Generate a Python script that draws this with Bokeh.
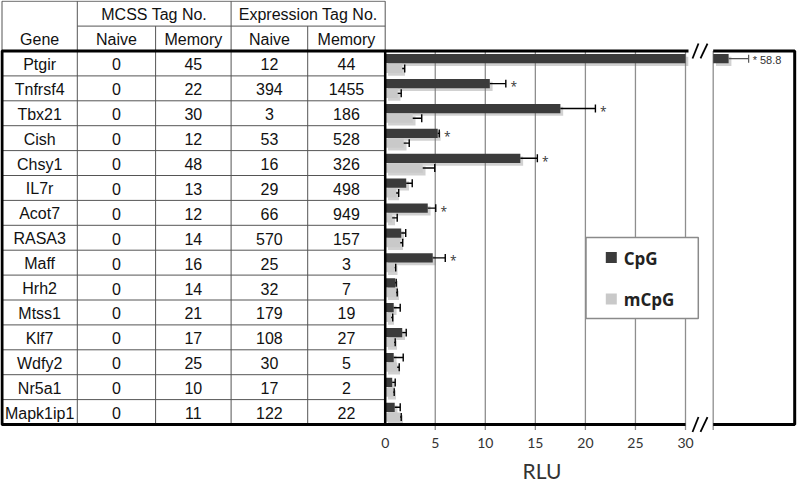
from bokeh.plotting import figure
from bokeh.models import Range1d, FixedTicker, Title, ColumnDataSource
from bokeh.core.properties import value
from bokeh.embed import file_html
from bokeh.resources import INLINE

# ---------------- data ----------------
genes = ["Ptgir", "Tnfrsf4", "Tbx21", "Cish", "Chsy1", "IL7r", "Acot7", "RASA3",
         "Maff", "Hrh2", "Mtss1", "Klf7", "Wdfy2", "Nr5a1", "Mapk1ip1"]
mcss_naive = [0, 0, 0, 0, 0, 0, 0, 0, 0, 0, 0, 0, 0, 0, 0]
mcss_memory = [45, 22, 30, 12, 48, 13, 12, 14, 16, 14, 21, 17, 25, 10, 11]
expr_naive = [12, 394, 3, 53, 16, 29, 66, 570, 25, 32, 179, 108, 30, 17, 122]
expr_memory = [44, 1455, 186, 528, 326, 498, 949, 157, 3, 7, 19, 27, 5, 2, 22]

cpg = [58.8, 10.45, 17.5, 5.25, 13.5, 2.1, 4.25, 1.6, 4.75, 1.0, 0.85, 1.7, 0.85, 0.7, 0.95]
cpg_err = [2.0, 1.6, 3.5, 0.15, 1.7, 0.6, 0.8, 0.45, 1.25, 0.1, 0.65, 0.4, 0.95, 0.3, 0.55]
mcpg = [1.7, 1.25, 2.75, 1.85, 3.75, 1.1, 0.7, 1.5, 0.95, 1.1, 0.6, 0.9, 1.2, 0.8, 1.5]
mcpg_err = [0.25, 0.35, 0.9, 0.55, 1.2, 0.25, 0.5, 0.25, 0.1, 0.1, 0.15, 0.1, 0.2, 0.1, 0.1]
significant = [True, True, True, True, True, False, True, False, True,
               False, False, False, False, False, False]

header_top = ["MCSS Tag No.", "Expression Tag No."]
header_sub = ["Gene", "Naive", "Memory", "Naive", "Memory"]
series_names = ["CpG", "mCpG"]
rlu_ticks = [0, 5, 10, 15, 20, 25, 30]
axis_title = "RLU"

# ---------------- layout constants ----------------
FIG_W = 797
FRAME_H = 435
ROW_H = 24.9
TOP_PX = 50.5          # px of the top of the first data row
PX = 10.01             # px per RLU unit
X0 = 384.7             # px of RLU 0
AX_MAX = 30
BRK_PX = 712.7         # px where right (broken) panel starts
BRK_START = 57.26      # RLU value at the start of the right panel
RIGHT_PX = 794.2
COL_EDGES = [1.5, 76.8, 155.1, 230.6, 307.2, 384.7]

DARK = "#3b3b3b"
LIGHT = "#c9c9c9"
TFONT = value("Liberation Sans")

n = len(genes)
rows = list(range(n))

p = figure(frame_width=FIG_W, frame_height=FRAME_H, output_backend="svg", toolbar_location=None,
           x_range=Range1d(-X0 / PX, (FIG_W - X0) / PX),
           y_range=Range1d((FRAME_H - TOP_PX) / ROW_H - 0.5, -TOP_PX / ROW_H - 0.5),
           y_axis_location=None, min_border_left=0, min_border_right=0,
           min_border_top=0, min_border_bottom=0, title=None)
p.extra_x_ranges = {
    "tbl": Range1d(0, FIG_W),
    "brk": Range1d(BRK_START - BRK_PX / PX, BRK_START + (FIG_W - BRK_PX) / PX),
}
p.outline_line_color = None
p.grid.visible = False
p.background_fill_color = "white"
p.border_fill_color = "white"

ax = p.xaxis[0]
ax.ticker = FixedTicker(ticks=rlu_ticks)
ax.axis_line_color = None
ax.major_tick_line_color = None
ax.minor_tick_line_color = None
ax.major_tick_out = 0
ax.major_tick_in = 0
ax.major_label_standoff = 2
ax.major_label_text_font = "Lato"
ax.major_label_text_font_size = "14px"
ax.major_label_text_color = "#333333"

# axis title placed under the broken-axis chart
p.add_layout(Title(text=axis_title, align="left", offset=522, text_font="Lato",
                   text_font_size="21px", text_font_style="normal", text_color="#333333",
                   standoff=10), "below")

# ---------------- grid lines ----------------
grid_x = [t for t in rlu_ticks if t > 0]
p.segment(x0=grid_x, x1=grid_x, y0=-0.5, y1=14.72, line_color="#8e8e8e", line_width=1.3)
p.segment(x0=[BRK_START], x1=[BRK_START], y0=-0.5, y1=14.72, line_color="#8e8e8e",
          line_width=1.3, x_range_name="brk")

# ---------------- bars ----------------
CP_OFF, MC_OFF, BAR_H = -0.19, 0.20, 0.37
SH_X, SH_Y = 0.28, 0.11
cpg_main = [min(v, AX_MAX) for v in cpg]
y_cp = [r + CP_OFF for r in rows]
y_mc = [r + MC_OFF for r in rows]

# shadows
p.hbar(y=[v + SH_Y for v in y_cp], left=SH_X, right=[v + SH_X for v in cpg_main], height=BAR_H,
       fill_color="#7a7a7a", fill_alpha=0.35, line_color=None)
p.hbar(y=[v + SH_Y for v in y_mc], left=SH_X, right=[v + SH_X for v in mcpg], height=BAR_H,
       fill_color="#7a7a7a", fill_alpha=0.35, line_color=None)

p.hbar(y=y_cp, left=0, right=cpg_main, height=BAR_H, fill_color=DARK, line_color=None)
p.hbar(y=y_mc, left=0, right=mcpg, height=BAR_H, fill_color=LIGHT, line_color=None)

# error bars (main panel)
main_idx = [i for i in rows if cpg[i] <= AX_MAX]
e_hi_cp = [cpg[i] + cpg_err[i] for i in main_idx]
p.segment(x0=[cpg[i] for i in main_idx], x1=e_hi_cp, y0=[y_cp[i] for i in main_idx],
          y1=[y_cp[i] for i in main_idx], line_color="black", line_width=1.4)
p.segment(x0=e_hi_cp, x1=e_hi_cp, y0=[y_cp[i] - 0.16 for i in main_idx],
          y1=[y_cp[i] + 0.16 for i in main_idx], line_color="black", line_width=1.4)
e_hi_mc = [mcpg[i] + mcpg_err[i] for i in rows]
p.segment(x0=mcpg, x1=e_hi_mc, y0=y_mc, y1=y_mc, line_color="black", line_width=1.4)
p.segment(x0=e_hi_mc, x1=e_hi_mc, y0=[v - 0.16 for v in y_mc], y1=[v + 0.16 for v in y_mc],
          line_color="black", line_width=1.4)

# significance stars (main panel)
sig_main = [i for i in main_idx if significant[i]]
p.text(x=[cpg[i] + cpg_err[i] for i in sig_main], y=[y_cp[i] for i in sig_main],
       text=["*"] * len(sig_main), x_offset=8, y_offset=3, text_align="center",
       text_baseline="middle", text_font=value("Open Sans"), text_font_size="12px",
       text_color="#333333")

# ---------------- broken (right) panel ----------------
big = [i for i in rows if cpg[i] > AX_MAX]
p.hbar(y=[y_cp[i] + SH_Y for i in big], left=BRK_START + SH_X, right=[cpg[i] + SH_X for i in big],
       height=BAR_H, fill_color="#7a7a7a", fill_alpha=0.35, line_color=None, x_range_name="brk")
p.hbar(y=[y_cp[i] for i in big], left=BRK_START, right=[cpg[i] for i in big], height=BAR_H,
       fill_color=DARK, line_color=None, x_range_name="brk")
b_hi = [cpg[i] + cpg_err[i] for i in big]
p.segment(x0=[cpg[i] for i in big], x1=b_hi, y0=[y_cp[i] for i in big], y1=[y_cp[i] for i in big],
          line_color="#555555", line_width=1.2, x_range_name="brk")
p.segment(x0=b_hi, x1=b_hi, y0=[y_cp[i] - 0.16 for i in big], y1=[y_cp[i] + 0.16 for i in big],
          line_color="#555555", line_width=1.2, x_range_name="brk")
p.text(x=b_hi, y=[y_cp[i] for i in big],
       text=[("* " if significant[i] else "") + f"{cpg[i]:.1f}" for i in big],
       x_offset=4, y_offset=1, text_align="left", text_baseline="middle",
       text_font=value("Liberation Sans"), text_font_size="11px", text_color="#333333",
       x_range_name="brk")

# ---------------- table ----------------
hx0, hx1, hy = [], [], []
for r in range(n - 1):
    hx0.append(COL_EDGES[0]); hx1.append(COL_EDGES[-1]); hy.append(r + 0.5)
p.segment(x0=hx0, x1=hx1, y0=hy, y1=hy, line_color="#555555", line_width=1, x_range_name="tbl")
inner = COL_EDGES[1:-1]
p.segment(x0=inner, x1=inner, y0=-0.5, y1=14.5, line_color="#555555", line_width=1,
          x_range_name="tbl")
p.segment(x0=[COL_EDGES[0], COL_EDGES[1], COL_EDGES[0], COL_EDGES[1], COL_EDGES[2], COL_EDGES[3],
              COL_EDGES[4], COL_EDGES[5]],
          x1=[COL_EDGES[5], COL_EDGES[5], COL_EDGES[0], COL_EDGES[1], COL_EDGES[2], COL_EDGES[3],
              COL_EDGES[4], COL_EDGES[5]],
          y0=[-2.5, -1.5, -2.5, -2.5, -1.5, -2.5, -1.5, -2.5],
          y1=[-2.5, -1.5, -0.5, -0.5, -0.5, -0.5, -0.5, -0.5],
          line_color="#555555", line_width=1, x_range_name="tbl")

centers = [(COL_EDGES[k] + COL_EDGES[k + 1]) / 2 for k in range(5)]
columns = [genes, mcss_naive, mcss_memory, expr_naive, expr_memory]
cx, cy, ct = [], [], []
for k, col in enumerate(columns):
    for r, v in enumerate(col):
        cx.append(centers[k]); cy.append(r); ct.append(str(v))
for k, h in enumerate(header_sub):
    cx.append(centers[k]); cy.append(-1); ct.append(h)
for k, h in enumerate(header_top):
    cx.append((COL_EDGES[1 + 2 * k] + COL_EDGES[3 + 2 * k]) / 2); cy.append(-2); ct.append(h)
p.text(x="x", y="y", text="t", source=ColumnDataSource(dict(x=cx, y=cy, t=ct)),
       text_align="center", text_baseline="middle", text_font=TFONT, text_font_size="16px",
       text_color="#111111", x_range_name="tbl", y_offset=1)

# ---------------- thick frame ----------------
main_end = X0 + AX_MAX * PX
p.line(x=[main_end + 3, COL_EDGES[0], COL_EDGES[0], main_end], y=[-0.5, -0.5, 14.5, 14.5],
       line_color="black", line_width=3, x_range_name="tbl")
p.line(x=[BRK_PX, RIGHT_PX, RIGHT_PX, BRK_PX], y=[-0.5, -0.5, 14.5, 14.5],
       line_color="black", line_width=3, x_range_name="tbl")
p.segment(x0=[COL_EDGES[-1]], x1=[COL_EDGES[-1]], y0=-0.5, y1=14.5, line_color="black",
          line_width=2.5, x_range_name="tbl")
for yc in (-0.5, 14.5):
    p.segment(x0=[main_end + 7, main_end + 15], x1=[main_end + 13, main_end + 22],
              y0=[yc + 0.3, yc + 0.3], y1=[yc - 0.3, yc - 0.3],
              line_color="black", line_width=1.8, x_range_name="tbl")

# ---------------- legend ----------------
p.quad(left=[585.5], right=[697.8], top=[6.99], bottom=[10.24], fill_color="white",
       line_color="#8a8a8a", line_width=1.5, x_range_name="tbl")
p.scatter(x=[610.8, 610.8], y=[7.79, 9.46], marker="square", size=11,
          fill_color=[DARK, LIGHT], line_color=None, x_range_name="tbl")
p.text(x=[623.2, 623.2], y=[7.82, 9.46], text=series_names, text_align="left",
       text_baseline="middle", text_font=value("Open Sans"), text_font_style="bold",
       text_font_size="17px", text_color="#222222", x_range_name="tbl")

open("out.html", "w").write(file_html(p, INLINE))
